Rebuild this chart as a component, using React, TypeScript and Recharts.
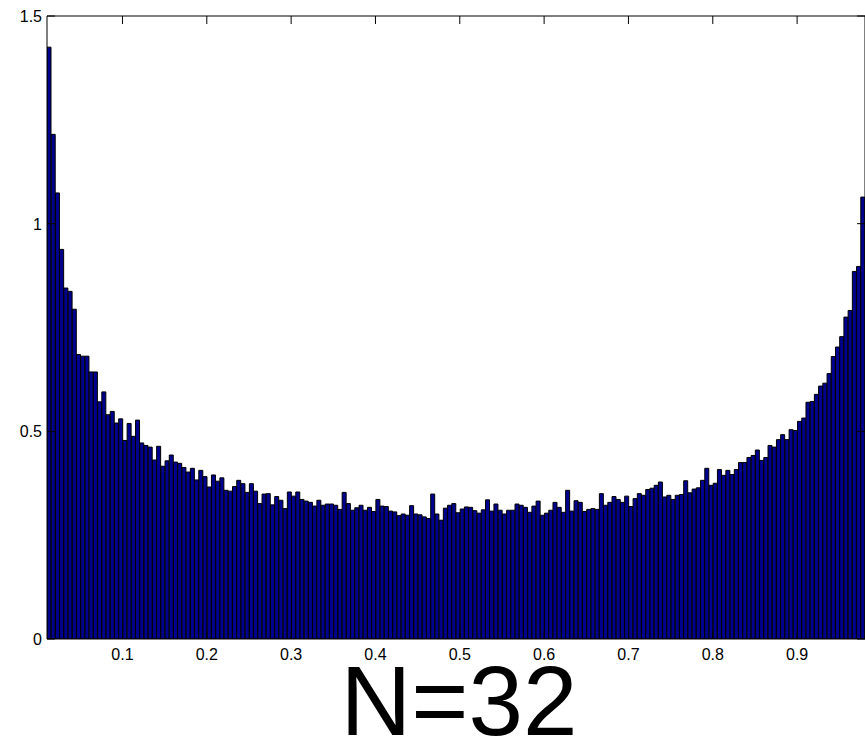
import { BarChart, Bar, XAxis, YAxis } from "recharts";

// histogram heights, one per bin
const density = [
  1.425, 1.215, 1.074, 0.938, 0.845, 0.837, 0.794, 0.685, 0.681, 0.681,
  0.643, 0.643, 0.571, 0.595, 0.54, 0.548, 0.52, 0.53, 0.478, 0.519,
  0.488, 0.527, 0.472, 0.466, 0.462, 0.431, 0.464, 0.416, 0.429, 0.443,
  0.426, 0.423, 0.413, 0.402, 0.411, 0.383, 0.406, 0.391, 0.366, 0.395,
  0.38, 0.388, 0.358, 0.356, 0.367, 0.382, 0.374, 0.353, 0.374, 0.356,
  0.326, 0.349, 0.35, 0.323, 0.343, 0.334, 0.314, 0.354, 0.344, 0.354,
  0.336, 0.332, 0.329, 0.32, 0.334, 0.322, 0.325, 0.325, 0.322, 0.312,
  0.353, 0.326, 0.31, 0.316, 0.322, 0.31, 0.317, 0.307, 0.336, 0.32,
  0.319, 0.308, 0.306, 0.297, 0.301, 0.298, 0.321, 0.301, 0.299, 0.294,
  0.29, 0.349, 0.301, 0.286, 0.315, 0.322, 0.326, 0.304, 0.313, 0.318,
  0.317, 0.309, 0.303, 0.311, 0.335, 0.308, 0.325, 0.31, 0.301, 0.31,
  0.31, 0.325, 0.322, 0.317, 0.305, 0.32, 0.332, 0.298, 0.303, 0.31,
  0.329, 0.317, 0.305, 0.358, 0.308, 0.333, 0.329, 0.307, 0.312, 0.314,
  0.312, 0.35, 0.322, 0.329, 0.343, 0.336, 0.329, 0.344, 0.319, 0.338,
  0.35, 0.346, 0.36, 0.363, 0.37, 0.378, 0.342, 0.346, 0.336, 0.346,
  0.348, 0.381, 0.352, 0.361, 0.364, 0.382, 0.411, 0.37, 0.375, 0.408,
  0.394, 0.406, 0.396, 0.408, 0.425, 0.425, 0.437, 0.442, 0.455, 0.43,
  0.437, 0.466, 0.462, 0.48, 0.492, 0.48, 0.504, 0.502, 0.524, 0.532,
  0.57, 0.572, 0.589, 0.609, 0.616, 0.639, 0.68, 0.703, 0.728, 0.775,
  0.791, 0.885, 0.897, 1.064,
];

const binStart = 0.0105;
const binWidth = 0.005;
const xTicks = [0.1, 0.2, 0.3, 0.4, 0.5, 0.6, 0.7, 0.8, 0.9];
const yTicks = [0, 0.5, 1, 1.5];
const title = "N=32";

const data = density.map((v, i) => ({ center: binStart + binWidth * (i + 0.5), density: v }));
const xDomain = [binStart, binStart + binWidth * density.length];

const FONT = "'Liberation Sans', Arial, Helvetica, sans-serif";
const TICK = 8;

const LeftTick = (props: any) => {
  const { x, y, payload } = props;
  return (
    <g>
      <line x1={x} x2={x + TICK} y1={y} y2={y} stroke="#000" />
      <text x={x - 5} y={y + 6} textAnchor="end" fontSize={16} fill="#000" fontFamily={FONT}>
        {String(payload.value)}
      </text>
    </g>
  );
};

const RightTick = (props: any) => {
  const { x, y } = props;
  return <line x1={x} x2={x - TICK} y1={y} y2={y} stroke="#000" />;
};

const BottomTick = (props: any) => {
  const { x, y, payload } = props;
  return (
    <g>
      <line x1={x} x2={x} y1={y} y2={y - TICK} stroke="#000" />
      <text x={x} y={y + 21} textAnchor="middle" fontSize={16} fill="#000" fontFamily={FONT}>
        {String(payload.value)}
      </text>
    </g>
  );
};

const TopTick = (props: any) => {
  const { x, y } = props;
  return <line x1={x} x2={x} y1={y} y2={y + TICK} stroke="#000" />;
};

export default function App() {
  return (
    <div style={{ position: "absolute", left: 0, top: 0, width: 866, height: 739, background: "#fff" }}>
      <BarChart
        width={866}
        height={739}
        data={data}
        margin={{ top: 15, right: 0, bottom: 70, left: 0 }}
        barCategoryGap={0}
        barGap={0}
        style={{ fontFamily: FONT }}
      >
        <XAxis
          xAxisId="num"
          dataKey="center"
          type="number"
          orientation="bottom"
          domain={xDomain}
          ticks={xTicks}
          interval={0}
          height={30}
          tickSize={0}
          tickMargin={0}
          tickLine={false}
          axisLine={{ stroke: "#000" }}
          tick={<BottomTick />}
          allowDataOverflow
        />
        <XAxis
          xAxisId="top"
          dataKey="center"
          type="number"
          orientation="top"
          domain={xDomain}
          ticks={xTicks}
          interval={0}
          height={1}
          tickSize={0}
          tickMargin={0}
          tickLine={false}
          axisLine={{ stroke: "#000" }}
          tick={<TopTick />}
          allowDataOverflow
        />
        <YAxis
          yAxisId="left"
          type="number"
          domain={[0, 1.5]}
          ticks={yTicks}
          interval={0}
          width={47}
          tickSize={0}
          tickMargin={0}
          tickLine={false}
          axisLine={{ stroke: "#000" }}
          tick={<LeftTick />}
          allowDataOverflow
        />
        <YAxis
          yAxisId="right"
          orientation="right"
          type="number"
          domain={[0, 1.5]}
          ticks={yTicks}
          interval={0}
          width={1}
          tickSize={0}
          tickMargin={0}
          tickLine={false}
          axisLine={{ stroke: "#000" }}
          tick={<RightTick />}
          allowDataOverflow
        />
        <Bar
          xAxisId="num"
          yAxisId="left"
          dataKey="density"
          fill="#00008F"
          stroke="#000"
          strokeWidth={1}
          isAnimationActive={false}
        />
        {/* invisible copy so the top/right box axes get the same scales */}
        <Bar
          xAxisId="top"
          yAxisId="right"
          dataKey="density"
          fill="none"
          stroke="none"
          isAnimationActive={false}
        />
      </BarChart>
      <svg
        width={866}
        height={739}
        style={{ position: "absolute", left: 0, top: 0, pointerEvents: "none" }}
      >
        <text x={459} y={735} textAnchor="middle" fontSize={98} fill="#000" fontFamily={FONT}>
          {title}
        </text>
      </svg>
    </div>
  );
}
